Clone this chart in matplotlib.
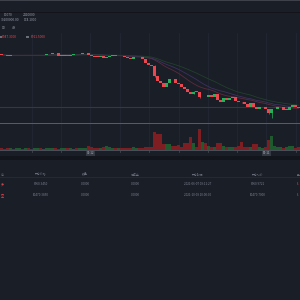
import matplotlib.pyplot as plt
import pandas as pd
from matplotlib.patches import Rectangle

plt.rcParams['font.family'] = ['Noto Sans CJK SC', 'DejaVu Sans']

# --- data ---
closes = [9930, 9850, 9830, 9860, 9850, 9870, 9870, 9860, 9880, 9870,
          9860, 9870, 9880, 9870, 9880, 9980, 10040, 10070, 10060, 9800,
          9830, 9850, 9840, 9920, 10000, 9990, 10020, 10050, 10070, 9870,
          9800, 9730, 9720, 9750, 9570, 9700, 9830, 9850, 9780, 9780,
          9760, 9720, 9620, 9470, 9650, 9700, 9680, 9500, 9130, 8900,
          8800, 7800, 7330, 7070, 6730, 7130, 7530, 7480, 7130, 7000,
          6670, 6470, 6230, 6000, 6230, 6200, 5670, 5730, 5670, 5900,
          5730, 6000, 5400, 5230, 5570, 5400, 5630, 5680, 5330, 5230,
          5170, 4970, 4670, 5130, 4670, 4470, 4670, 4730, 4470, 4070,
          4470, 4470, 4670, 4730, 4400, 4400, 4670, 4900, 4730, 4570]
first_open = 9960
extra_low = {51: 7650, 66: 5550, 89: 3950, 90: 3570, 80: 5050}
extra_high = {51: 8900, 64: 6300, 90: 4520}

volumes = [1.2, 1.0, 1.5, 1.2, 1.0, 1.3, 1.1, 1.0, 1.2, 1.4,
           1.0, 1.1, 1.3, 1.2, 1.0, 1.5, 1.3, 1.1, 1.2, 1.0,
           1.4, 1.2, 1.1, 1.3, 1.0, 1.2, 1.1, 1.3, 1.5, 3.3,
           2.5, 2.0, 2.0, 2.0, 3.0, 3.3, 3.0, 2.0, 2.0, 2.0,
           2.0, 2.0, 2.0, 2.0, 3.0, 2.0, 2.0, 2.0, 2.5, 3.0,
           3.0, 17.3, 15.3, 15.0, 6.0, 6.0, 6.0, 3.3, 3.3, 5.0,
           3.0, 6.6, 6.6, 12.6, 6.6, 3.0, 20.6, 7.3, 6.3, 3.3,
           2.5, 3.0, 6.6, 6.6, 3.3, 3.0, 2.5, 2.5, 2.5, 3.3,
           8.0, 2.5, 2.5, 2.7, 5.3, 5.3, 3.0, 2.0, 2.5, 10.0,
           13.3, 3.3, 2.5, 3.0, 2.0, 2.5, 3.3, 3.3, 2.0, 2.5]
last_price = 4700
ma_windows = [15, 20, 28]
ma_colors = ['#5e2a3e', '#3c3160', '#21402b']

grid_x = [10, 19.8, 29.6, 39.4, 49.2, 59, 68.8, 78.6, 88.3, 98.1]
date_ticks = [29.6, 88.3]
date_labels = ['03-12', '05-11']

top_info = [(4, 15, '10070'), (23, 15, '2410000'),
            (1, 20, '39200000.00'), (24, 20, '174.1000')]
period_labels = [(2, 28, '1D'), (12, 28, '4H')]
legend_vals = ['8947.3000', '8911.5000']

table_cols = [41, 85, 135, 198, 258]
table_head = ['开仓价格', '数量', '保证金', '开仓时间', '开仓均价']
table_rows = [['8960.3450', '0.0000', '0.0000', '2021-06-07 09:11:27', '8960.9721'],
              ['10470.3850', '0.0000', '0.0000', '2021-10-09 10:00:00', '10470.7000']]
row_side = ['多', '空']
row_pnl = ['-1', '-1']

bg = '#1a1e27'
red = '#ec4651'
green = '#27b05c'
vol_red = '#7e1d22'
vol_green = '#1e5a2d'
txt = '#7d8290'

opens = [first_open] + closes[:-1]
n = len(closes)
up = [c >= o for o, c in zip(opens, closes)]

fig = plt.figure(figsize=(3, 3), dpi=100, facecolor=bg)

# price panel (y 33..123 px)
ax = fig.add_axes([0, 1 - 123 / 300, 1, 90 / 300], facecolor=bg)
ax.set_xlim(-0.5, n - 0.5)
ax.set_ylim(3100, 12100)
for gx in grid_x:
    ax.axvline(gx, color='#222733', lw=0.6, zorder=0)
ax.axhline(last_price, color='#3d3538', lw=0.8, zorder=1)

s = pd.Series(closes)
for w, col in zip(ma_windows, ma_colors):
    ma = s.rolling(w, min_periods=1).mean()
    ax.plot(range(n), ma, color=col, lw=0.6, zorder=2)

for i in range(n):
    col = green if up[i] else red
    lo = min(opens[i], closes[i])
    hi = max(opens[i], closes[i])
    h = max(hi - lo, 50)
    wl = extra_low.get(i, lo)
    wh = extra_high.get(i, hi)
    if wl < lo or wh > hi:
        ax.vlines(i, wl, wh, color=col, lw=0.5, zorder=3)
    ax.bar(i, h, bottom=lo, width=0.8, color=col, lw=0, zorder=4)
ax.axis('off')

# volume panel (y 123..149.5 px)
vax = fig.add_axes([0, 1 - 149.5 / 300, 1, 26.5 / 300], facecolor=bg)
vax.set_xlim(-0.5, n - 0.5)
vax.set_ylim(0, 26.5)
for gx in grid_x:
    vax.axvline(gx, color='#222733', lw=0.6, zorder=0)
vax.bar(range(n), volumes, width=0.95,
        color=[vol_green if u else vol_red for u in up], lw=0, zorder=2)
vax.axis('off')

# overlay in pixel coords
ov = fig.add_axes([0, 0, 1, 1], facecolor='none')
ov.set_xlim(0, 300)
ov.set_ylim(300, 0)
ov.axis('off')
ov.add_patch(Rectangle((0, 0), 300, 1.2, color='#3e414a', lw=0))
ov.add_patch(Rectangle((0, 11.5), 300, 1.2, color='#121419', lw=0))
ov.add_patch(Rectangle((0, 122.6), 300, 1.2, color='#575b64', lw=0))
ov.add_patch(Rectangle((0, 149.5), 300, 1.0, color='#4a4e58', lw=0))
ov.add_patch(Rectangle((0, 156), 300, 3.5, color='#12151b', lw=0))
ov.add_patch(Rectangle((0, 177.2), 300, 0.8, color='#252933', lw=0))
for gx in grid_x:
    px = 3 * gx + 1.5
    ov.plot([px, px], [149.5, 151.5], color='#4a4e58', lw=0.5)
for gx, lab in zip(date_ticks, date_labels):
    ov.text(3 * gx + 1.5, 153.3, lab, color='#b8bcc6', fontsize=2.1,
            ha='center', va='center',
            bbox=dict(boxstyle='square,pad=0.25', fc='#353944', ec='none'))

for x, y, t in top_info:
    ov.text(x, y, t, color='#9a9fab', fontsize=2.3, va='center')
for x, y, t in period_labels:
    ov.text(x, y, t, color='#9a9fab', fontsize=2.3, va='center')
ov.add_patch(Rectangle((0, 35.8), 1.6, 2.2, color='#6a6e78', lw=0))
ov.text(2, 37, legend_vals[0], color=red, fontsize=2.3, va='center')
ov.add_patch(Rectangle((25.5, 35.8), 3.5, 2.2, color='#6a6e78', lw=0))
ov.text(30.5, 37, legend_vals[1], color=red, fontsize=2.3, va='center')

for cx, h in zip(table_cols, table_head):
    ov.text(cx, 174.5, h, color='#666b78', fontsize=2.1, ha='center', va='center')
ov.text(0.3, 174.5, '向', color='#666b78', fontsize=2.1, ha='left', va='center')
ov.text(299.7, 174.5, '盈', color='#666b78', fontsize=2.1, ha='right', va='center')
for r, y in zip(range(len(table_rows)), [184.3, 195.3]):
    ov.text(0.3, y, row_side[r], color=red, fontsize=2.2, ha='left', va='center')
    for cx, v in zip(table_cols, table_rows[r]):
        ov.text(cx, y, v, color=txt, fontsize=2.2, ha='center', va='center')
    ov.text(299.7, y, row_pnl[r], color=red, fontsize=2.2, ha='right', va='center')

fig.savefig('out.png', dpi=100, facecolor=bg)
